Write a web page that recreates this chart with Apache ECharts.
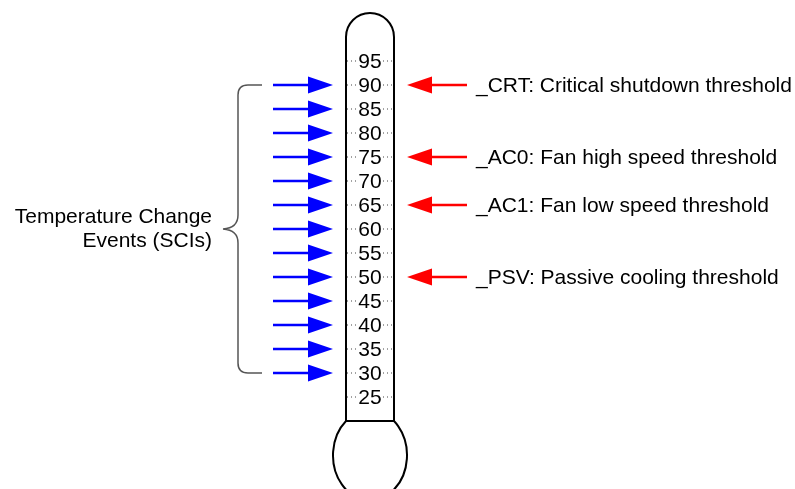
<!DOCTYPE html>
<html>
<head>
<meta charset="utf-8">
<script src="https://cdn.jsdelivr.net/npm/echarts@6/dist/echarts.min.js"></script>
<style>html,body{margin:0;padding:0;background:#fff}#c{width:795px;height:489px}</style>
</head>
<body>
<div id="c"></div>
<script>
// ---- data ----
var tickLabels = [25, 30, 35, 40, 45, 50, 55, 60, 65, 70, 75, 80, 85, 90, 95];
var eventTemps = [30, 35, 40, 45, 50, 55, 60, 65, 70, 75, 80, 85, 90];
var thresholdTemps = [90, 75, 65, 50];
var thresholdLabels = [
  '_CRT: Critical shutdown threshold',
  '_AC0: Fan high speed threshold',
  '_AC1: Fan low speed threshold',
  '_PSV: Passive cooling threshold'
];
var braceRange = [30, 90];
var braceLabelLines = ['Temperature Change', 'Events (SCIs)'];
var tubeRange = [20, 100];

var FONT = '21px "Liberation Sans", Arial, sans-serif';
var chart = echarts.init(document.getElementById('c'));

function thermometer(params, api) {
  var topL = api.coord([346, tubeRange[1]]);
  var topR = api.coord([394, tubeRange[1]]);
  var botL = api.coord([346, tubeRange[0]]);
  var botR = api.coord([394, tubeRange[0]]);
  var rTop = (topR[0] - topL[0]) / 2;
  var d = 'M' + botL[0] + ' ' + botL[1] + ' L' + topL[0] + ' ' + topL[1] +
    ' A' + rTop + ' ' + rTop + ' 0 0 1 ' + topR[0] + ' ' + topR[1] +
    ' L' + botR[0] + ' ' + botR[1] + ' Z' +
    ' M' + botL[0] + ' ' + botL[1] +
    ' A37 45 0 1 0 ' + botR[0] + ' ' + botR[1];
  return {
    type: 'path',
    shape: { pathData: d },
    style: { fill: 'none', stroke: '#000', lineWidth: 2 }
  };
}

function ticks(params, api) {
  var v = api.value(0);
  var l = api.coord([347, v]);
  var r = api.coord([393, v]);
  var c = api.coord([370, v]);
  return {
    type: 'group',
    children: [
      { type: 'line', shape: { x1: l[0], y1: l[1], x2: r[0], y2: r[1] },
        style: { stroke: '#444', lineWidth: 1, lineDash: [1, 3] } },
      { type: 'text', x: c[0], y: c[1] + 1,
        style: { text: String(v), font: FONT, fill: '#000', align: 'center', verticalAlign: 'middle',
                 backgroundColor: '#fff', padding: [0, 1] } }
    ]
  };
}

function blueArrow(params, api) {
  var v = api.value(0);
  var a = api.coord([273, v]);
  var b = api.coord([309, v]);
  var tip = api.coord([333, v]);
  return {
    type: 'group',
    children: [
      { type: 'line', shape: { x1: a[0], y1: a[1], x2: b[0], y2: b[1] },
        style: { stroke: '#0000ff', lineWidth: 2.5 } },
      { type: 'polygon', shape: { points: [[tip[0], tip[1]], [b[0] - 1, b[1] - 8.5], [b[0] - 1, b[1] + 8.5]] },
        style: { fill: '#0000ff' } }
    ]
  };
}

function redArrow(params, api) {
  var v = api.value(0);
  var idx = params.dataIndex;
  var a = api.coord([467, v]);
  var b = api.coord([431, v]);
  var tip = api.coord([407, v]);
  var t = api.coord([476, v]);
  return {
    type: 'group',
    children: [
      { type: 'line', shape: { x1: a[0], y1: a[1], x2: b[0], y2: b[1] },
        style: { stroke: '#ff0000', lineWidth: 2.5 } },
      { type: 'polygon', shape: { points: [[tip[0], tip[1]], [b[0] + 1, b[1] - 8.5], [b[0] + 1, b[1] + 8.5]] },
        style: { fill: '#ff0000' } },
      { type: 'text', x: t[0], y: t[1] + 1,
        style: { text: thresholdLabels[idx], font: FONT, fill: '#000', align: 'left', verticalAlign: 'middle' } }
    ]
  };
}

function brace(params, api) {
  var top = api.coord([262, api.value(1)]);
  var bot = api.coord([262, api.value(0)]);
  var mid = api.coord([223, (api.value(0) + api.value(1)) / 2]);
  var vx = 238;
  var d = 'M' + top[0] + ' ' + top[1] +
    ' L' + (vx + 10) + ' ' + top[1] +
    ' Q' + vx + ' ' + top[1] + ' ' + vx + ' ' + (top[1] + 10) +
    ' L' + vx + ' ' + (mid[1] - 14) +
    ' Q' + vx + ' ' + (mid[1] - 1) + ' ' + mid[0] + ' ' + mid[1] +
    ' Q' + vx + ' ' + (mid[1] + 1) + ' ' + vx + ' ' + (mid[1] + 14) +
    ' L' + vx + ' ' + (bot[1] - 10) +
    ' Q' + vx + ' ' + bot[1] + ' ' + (vx + 10) + ' ' + bot[1] +
    ' L' + bot[0] + ' ' + bot[1];
  var tx = api.coord([212, 0])[0];
  return {
    type: 'group',
    children: [
      { type: 'path', shape: { pathData: d }, style: { fill: 'none', stroke: '#555', lineWidth: 1.5 } },
      { type: 'text', x: tx, y: mid[1] - 12,
        style: { text: braceLabelLines[0], font: FONT, fill: '#000', align: 'right', verticalAlign: 'middle' } },
      { type: 'text', x: tx, y: mid[1] + 12,
        style: { text: braceLabelLines[1], font: FONT, fill: '#000', align: 'right', verticalAlign: 'middle' } }
    ]
  };
}

chart.setOption({
  animation: false,
  backgroundColor: '#fff',
  grid: { left: 0, right: 0, top: 13, bottom: 20 },
  xAxis: { type: 'value', min: 0, max: 795, show: false },
  yAxis: { type: 'value', min: 10, max: 105, show: false },
  series: [
    { type: 'custom', clip: false, renderItem: thermometer, data: [[0]], silent: true },
    { type: 'custom', clip: false, renderItem: ticks, data: tickLabels.map(function (v) { return [v]; }), silent: true },
    { type: 'custom', clip: false, renderItem: blueArrow, data: eventTemps.map(function (v) { return [v]; }), silent: true },
    { type: 'custom', clip: false, renderItem: redArrow, data: thresholdTemps.map(function (v) { return [v]; }), silent: true },
    { type: 'custom', clip: false, renderItem: brace, data: [braceRange], silent: true }
  ]
});
</script>
</body>
</html>
